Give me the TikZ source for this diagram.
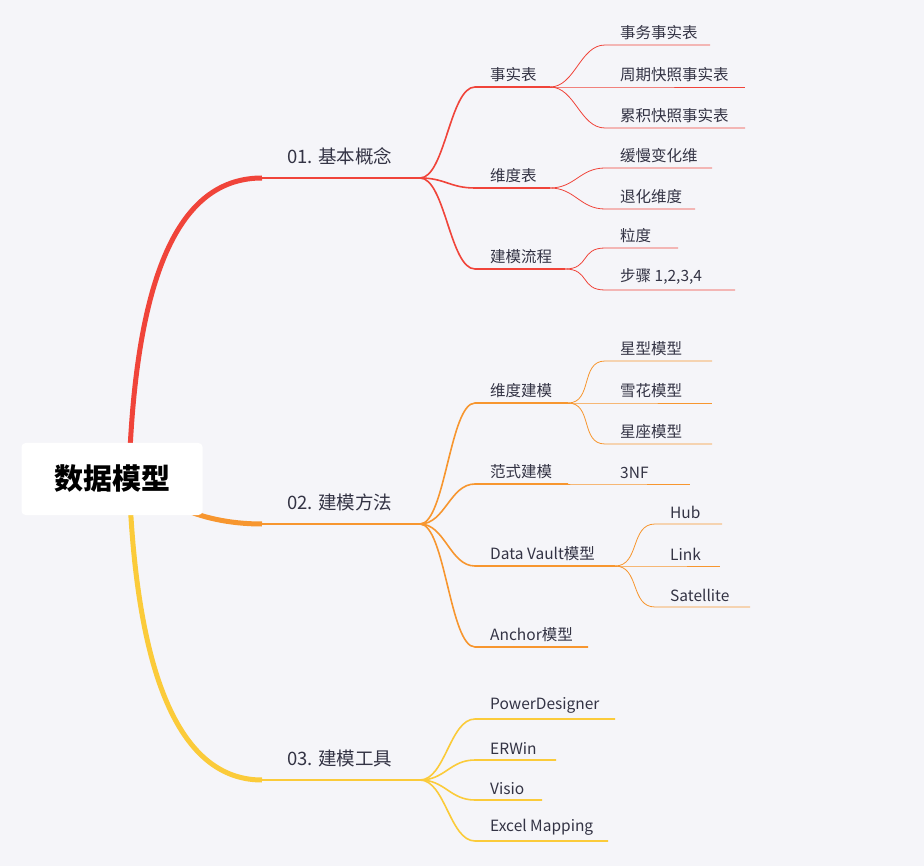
\documentclass[tikz,border=0pt]{standalone}
\usepackage{fontspec}
\setmainfont{Noto Sans CJK SC}
\definecolor{bgc}{HTML}{F5F5F9}
\definecolor{mmred}{HTML}{F0443A}
\definecolor{mmorange}{HTML}{F7962F}
\definecolor{mmyellow}{HTML}{FBCB3A}
\definecolor{txt}{HTML}{333344}
\tikzset{
  leaf/.style={text=txt, font=\fontsize{15.5}{18}\selectfont, inner sep=1pt},
  topic/.style={text=txt, font=\fontsize{18.5}{22}\selectfont, inner sep=1pt},
}
% #1 style, #2 parent, #3 name, #4 x start, #5 x end, #6 y, #7 text
\newcommand\mmbranch[7]{%
  \coordinate (#3-s) at (#4,#6); \coordinate (#3-e) at (#5,#6);
  \draw[#1] (#2) .. controls +(25,0) and +(-25,0) .. (#3-s) -- (#3-e);
  \node[leaf, anchor=south west] (#3) at ([xshift=14pt,yshift=4pt]#3-s) {#7};}
\begin{document}
\begin{tikzpicture}[x=1pt,y=-1pt]
  \useasboundingbox[fill=bgc] (0,0) rectangle (924,866);
  % main topics
  \coordinate (rt-top) at (130,450);
  \coordinate (rt-bot) at (130,500);
  \coordinate (t1-s) at (262,178); \coordinate (t1-e) at (420,178);
  \coordinate (t2-s) at (262,524); \coordinate (t2-e) at (420,524);
  \coordinate (t3-s) at (262,780); \coordinate (t3-e) at (420,780);
  \draw[mmred, line width=5pt] (rt-top) .. controls (140,250) and (190,178) .. (t1-s);
  \draw[mmorange, line width=5pt] (rt-top) .. controls (140,500) and (200,524) .. (t2-s);
  \draw[mmyellow, line width=5pt] (rt-bot) .. controls (140,700) and (190,780) .. (t3-s);
  \draw[mmred, line width=2pt] (t1-s) -- (t1-e);
  \draw[mmorange, line width=2pt] (t2-s) -- (t2-e);
  \draw[mmyellow, line width=2pt] (t3-s) -- (t3-e);
  \node[topic, anchor=south west] (t1) at ([xshift=24pt,yshift=12pt]t1-s) {01. 基本概念};
  \node[topic, anchor=south west] (t2) at ([xshift=24pt,yshift=12pt]t2-s) {02. 建模方法};
  \node[topic, anchor=south west] (t3) at ([xshift=24pt,yshift=12pt]t3-s) {03. 建模工具};
  \node[fill=white, rounded corners=4pt, minimum width=181pt, minimum height=72pt,
        font=\fontsize{29}{34}\selectfont\bfseries] (root) at (112,479) {数据模型};

  % 01
  \mmbranch{mmred, line width=1.6pt}{t1-e}{a1}{475}{550}{87}{事实表}
  \mmbranch{mmred, line width=1.6pt}{t1-e}{a2}{475}{550}{188}{维度表}
  \mmbranch{mmred, line width=1.6pt}{t1-e}{a3}{475}{565}{269}{建模流程}
  \mmbranch{mmred, line width=0.8pt}{a1-e}{a11}{605}{710}{45}{事务事实表}
  \mmbranch{mmred, line width=0.8pt}{a1-e}{a12}{605}{745}{87}{周期快照事实表}
  \mmbranch{mmred, line width=0.8pt}{a1-e}{a13}{605}{745}{128}{累积快照事实表}
  \mmbranch{mmred, line width=0.8pt}{a2-e}{a21}{605}{712}{168}{缓慢变化维}
  \mmbranch{mmred, line width=0.8pt}{a2-e}{a22}{605}{695}{209}{退化维度}
  \mmbranch{mmred, line width=0.8pt}{a3-e}{a31}{605}{678}{248}{粒度}
  \mmbranch{mmred, line width=0.8pt}{a3-e}{a32}{605}{735}{290}{步骤 1,2,3,4}

  % 02
  \mmbranch{mmorange, line width=1.6pt}{t2-e}{b1}{475}{568}{403}{维度建模}
  \mmbranch{mmorange, line width=1.6pt}{t2-e}{b2}{475}{568}{484}{范式建模}
  \mmbranch{mmorange, line width=1.6pt}{t2-e}{b3}{475}{615}{566}{Data Vault模型}
  \mmbranch{mmorange, line width=1.6pt}{t2-e}{b4}{475}{588}{647}{Anchor模型}
  \mmbranch{mmorange, line width=0.8pt}{b1-e}{b11}{605}{712}{361}{星型模型}
  \mmbranch{mmorange, line width=0.8pt}{b1-e}{b12}{605}{712}{403}{雪花模型}
  \mmbranch{mmorange, line width=0.8pt}{b1-e}{b13}{605}{712}{444}{星座模型}
  \mmbranch{mmorange, line width=0.8pt}{b2-e}{b21}{605}{690}{484}{3NF}
  \mmbranch{mmorange, line width=0.8pt}{b3-e}{b31}{655}{722}{524}{Hub}
  \mmbranch{mmorange, line width=0.8pt}{b3-e}{b32}{655}{720}{566}{Link}
  \mmbranch{mmorange, line width=0.8pt}{b3-e}{b33}{655}{750}{607}{Satellite}

  % 03
  \mmbranch{mmyellow, line width=1.6pt}{t3-e}{c1}{475}{615}{719}{PowerDesigner}
  \mmbranch{mmyellow, line width=1.6pt}{t3-e}{c2}{475}{556}{760}{ERWin}
  \mmbranch{mmyellow, line width=1.6pt}{t3-e}{c3}{475}{542}{800}{Visio}
  \mmbranch{mmyellow, line width=1.6pt}{t3-e}{c4}{475}{608}{841}{Excel Mapping}
\end{tikzpicture}
\end{document}
